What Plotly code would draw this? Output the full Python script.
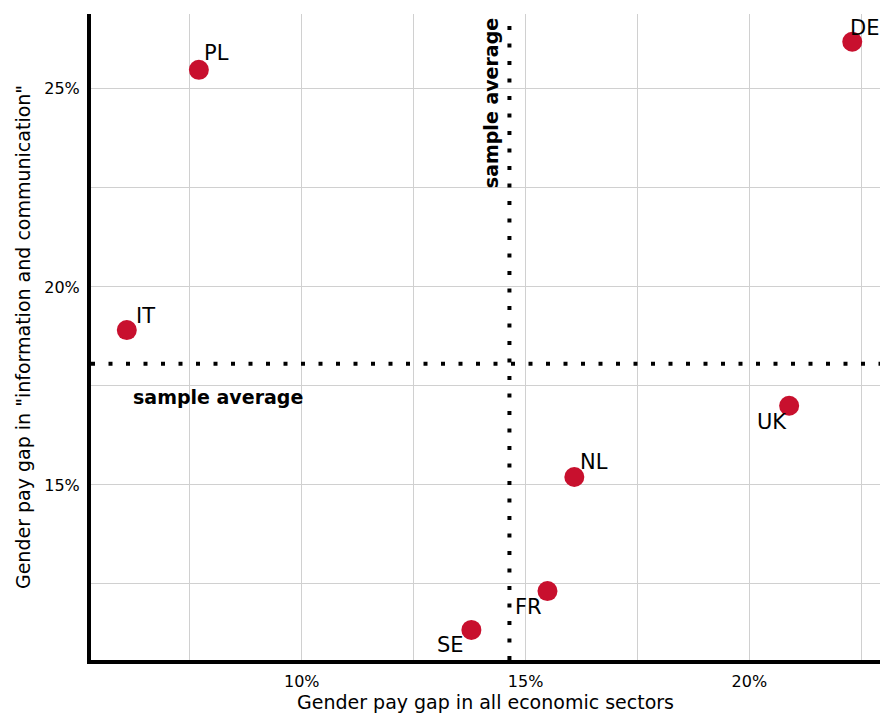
import plotly.graph_objects as go

countries = ["PL", "DE", "IT", "UK", "NL", "FR", "SE"]
gap_all = [7.70, 22.30, 6.09, 20.89, 16.09, 15.49, 13.79]
gap_ict = [25.48, 26.19, 18.91, 17.00, 15.20, 12.32, 11.34]
avg_all = 14.64
avg_ict = 18.06
tick_vals = [7.5, 10, 12.5, 15, 17.5, 20, 22.5, 25]
tick_text = ["", "10%", "", "15%", "", "20%", "", "25%"]

# label offsets (xanchor, xshift, yshift)
label_pos = {
    "PL": ("left", 3, 17),
    "DE": ("left", -4, 14),
    "IT": ("left", 7, 14),
    "UK": ("right", 0, -16),
    "NL": ("left", 4, 15),
    "FR": ("right", -3, -16),
    "SE": ("right", -5, -15),
}

FONT = "DejaVu Sans, Liberation Sans, Arial, sans-serif"
RED = "#C8102E"

fig = go.Figure()
fig.add_trace(go.Scatter(
    x=gap_all, y=gap_ict, mode="markers",
    marker=dict(size=20, color=RED, line=dict(width=0)),
    showlegend=False, hoverinfo="skip",
))

xr = [5.29, 22.92]
yr = [10.58, 26.89]

# average lines
fig.add_trace(go.Scatter(x=[avg_all, avg_all], y=yr, mode="lines",
                         line=dict(color="black", width=4, dash="4px,13.5px"),
                         showlegend=False, hoverinfo="skip"))
fig.add_trace(go.Scatter(x=xr, y=[avg_ict, avg_ict], mode="lines",
                         line=dict(color="black", width=4, dash="4px,13.5px"),
                         showlegend=False, hoverinfo="skip"))

for c, xv, yv in zip(countries, gap_all, gap_ict):
    xa, xs, ys = label_pos[c]
    fig.add_annotation(x=xv, y=yv, text=c, showarrow=False,
                       xanchor=xa, yanchor="middle", xshift=xs, yshift=ys,
                       font=dict(size=21, color="black", family=FONT))

fig.add_annotation(x=avg_all, y=24.65, text="<b>sample average</b>", showarrow=False,
                   textangle=-90, xanchor="center", yanchor="middle", xshift=-19,
                   font=dict(size=19, color="black", family=FONT))
fig.add_annotation(x=5.29, y=avg_ict, text="<b>sample average</b>", showarrow=False,
                   xanchor="left", yanchor="middle", xshift=40, yshift=-33,
                   font=dict(size=19, color="black", family=FONT))

axis_common = dict(
    showline=True, linecolor="black", linewidth=4, mirror=False,
    showgrid=True, gridcolor="#d0d0d0", gridwidth=1,
    zeroline=False, ticks="", tickmode="array",
    tickvals=tick_vals, ticktext=tick_text,
    tickfont=dict(size=16, color="black", family=FONT),
)

fig.update_layout(
    width=881, height=715,
    margin=dict(l=91, r=1, t=14, b=55),
    paper_bgcolor="white", plot_bgcolor="white",
    font=dict(family=FONT, color="black"),
    xaxis=dict(range=xr, title=dict(text="Gender pay gap in all economic sectors",
                                    font=dict(size=19, family=FONT), standoff=6),
               ticklabelstandoff=4, **axis_common),
    yaxis=dict(range=yr, title=dict(text='Gender pay gap in "information and communication"',
                                    font=dict(size=19, family=FONT), standoff=10),
               ticklabelstandoff=4, **axis_common),
)

fig.write_html(
    "out.html",
    config={"displayModeBar": False},
    post_script="document.body.style.margin='0';document.body.style.overflow='hidden';",
)
